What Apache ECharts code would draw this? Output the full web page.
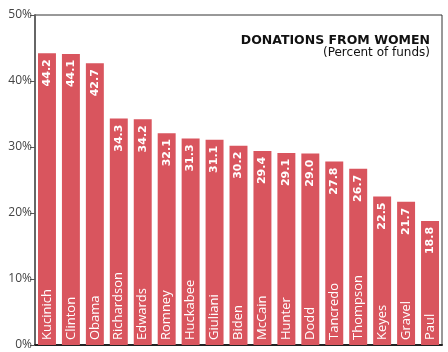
<!DOCTYPE html>
<html lang="en">
<head>
    <meta charset="UTF-8">
    <title>Donations from women</title>
    <style>
        html, body { margin: 0; padding: 0; background: #fff; }
        #chart { width: 448px; height: 352px; }
    </style>
</head>
<body>
    <div id="chart"></div>
    <script src="https://cdn.jsdelivr.net/npm/echarts@6/dist/echarts.min.js"></script>
    <script>
        var candidates = ['Kucinich', 'Clinton', 'Obama', 'Richardson', 'Edwards', 'Romney', 'Huckabee', 'Giuliani',
            'Biden', 'McCain', 'Hunter', 'Dodd', 'Tancredo', 'Thompson', 'Keyes', 'Gravel', 'Paul'];
        var womenShare = [44.2, 44.1, 42.7, 34.3, 34.2, 32.1, 31.3, 31.1, 30.2, 29.4, 29.1, 29.0, 27.8, 26.7, 22.5, 21.7, 18.8];
        var yTicks = [0, 10, 20, 30, 40, 50];

        var barColor = '#d9555e';
        var chart = echarts.init(document.getElementById('chart'));
        chart.setOption({
            animation: false,
            title: [{
                text: 'DONATIONS FROM WOMEN',
                right: 13,
                top: 29,
                textStyle: { fontFamily: 'DejaVu Sans', fontWeight: 'bold', fontSize: 12.5, color: '#111' }
            }, {
                text: '(Percent of funds)',
                right: 13,
                top: 42,
                textStyle: { fontFamily: 'DejaVu Sans', fontWeight: 'normal', fontSize: 12, color: '#111' }
            }],
            grid: {
                left: 35, right: 6, top: 15, bottom: 7,
                show: true, borderColor: '#333', borderWidth: 1
            },
            xAxis: {
                type: 'category',
                data: candidates,
                axisLine: { lineStyle: { color: '#222', width: 2 } },
                axisTick: { show: false },
                axisLabel: { show: false }
            },
            yAxis: {
                type: 'value',
                min: yTicks[0],
                max: yTicks[yTicks.length - 1],
                interval: 10,
                splitLine: { show: false },
                axisLine: { show: true, lineStyle: { color: '#666', width: 2 } },
                axisTick: { show: true, length: 5, lineStyle: { color: '#555' } },
                axisLabel: {
                    formatter: '{value}%',
                    margin: 3,
                    fontFamily: 'Open Sans',
                    fontSize: 12,
                    color: '#444'
                }
            },
            series: [{
                type: 'bar',
                data: womenShare,
                barCategoryGap: '25%',
                itemStyle: { color: barColor },
                label: {
                    show: true,
                    position: 'insideTop',
                    rotate: 90,
                    align: 'right',
                    verticalAlign: 'middle',
                    distance: 6,
                    formatter: function (p) { return p.value.toFixed(1); },
                    fontFamily: 'DejaVu Sans',
                    fontWeight: 'bold',
                    fontSize: 11,
                    color: '#fff'
                }
            }, {
                type: 'bar',
                data: womenShare,
                barGap: '-100%',
                barCategoryGap: '25%',
                itemStyle: { color: 'rgba(0,0,0,0)' },
                label: {
                    show: true,
                    position: 'insideBottom',
                    rotate: 90,
                    align: 'left',
                    verticalAlign: 'middle',
                    distance: 5,
                    formatter: '{b}',
                    fontFamily: 'Open Sans',
                    fontSize: 13,
                    color: '#fff'
                }
            }]
        });
    </script>
</body>
</html>
